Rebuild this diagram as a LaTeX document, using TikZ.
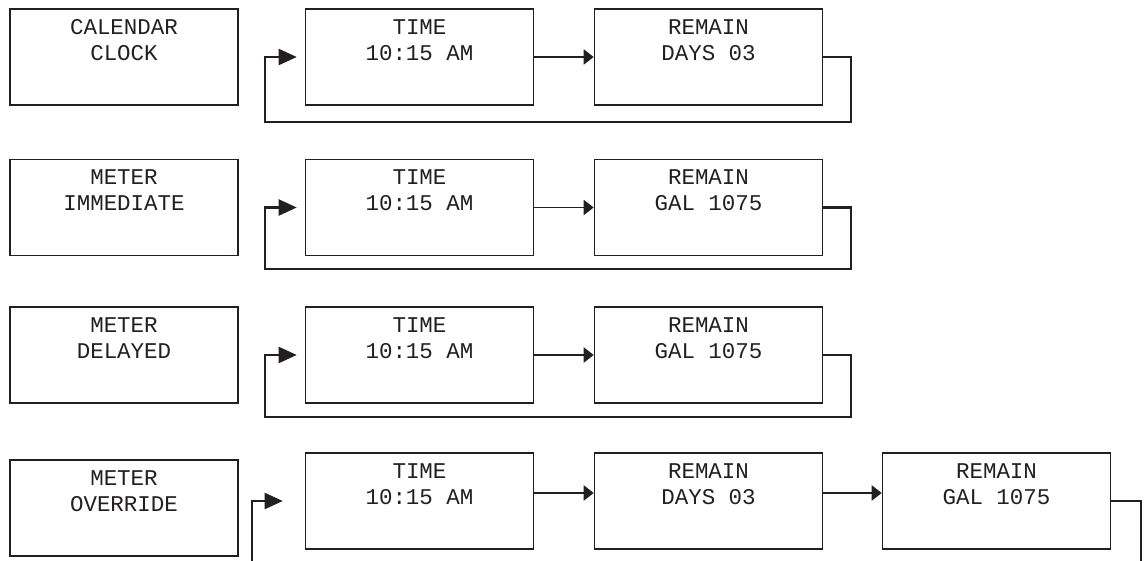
\documentclass[tikz,border=0pt]{standalone}
\usepackage{fontspec}
\newfontfamily\lcdfont{Liberation Mono}
\usetikzlibrary{arrows.meta}
\definecolor{ink}{HTML}{231F20}
\tikzset{
  panel/.style={draw=ink, line width=0.9pt, minimum width=4.56cm, minimum height=1.92cm, inner sep=0pt,
    label={[anchor=north, yshift=-0.22cm, align=center, inner sep=0pt, text=ink,
      font=\lcdfont\fontsize{12.8}{14.8}\selectfont]north:{#1}}},
  wire/.style={draw=ink, line width=1.2pt},
  stepline/.style={draw=ink, line width=1.1pt, -{Triangle[length=0.2cm,width=0.3cm]}},
  backline/.style={wire, -{Triangle[length=0.36cm,width=0.32cm]}, shorten >=0.16cm},
}

\begin{document}
\begin{tikzpicture}[x=0.02cm, y=-0.02cm]
  \useasboundingbox (0,0) rectangle (1147,561);

  % Calendar clock: time and remaining days
  \node[panel={CALENDAR\\CLOCK}] (mode1) at (124,57) {};
  \node[panel={TIME\\10:15 AM}] (time1) at (419.5,57) {};
  \node[panel={REMAIN\\DAYS 03}] (days1) at (708.5,57) {};
  \draw[stepline] (time1) -- (days1);
  \draw[backline] (days1.east) -- ++(28,0) |- (265,122) |- (time1.west);

  % Meter immediate: time and remaining gallons
  \node[panel={METER\\IMMEDIATE}] (mode2) at (124,207.5) {};
  \node[panel={TIME\\10:15 AM}] (time2) at (419.5,207.5) {};
  \node[panel={REMAIN\\GAL 1075}] (gal2) at (708.5,207.5) {};
  \draw[stepline] (time2) -- (gal2);
  \draw[backline] (gal2.east) -- ++(28,0) |- (265,269) |- (time2.west);

  % Meter delayed: same cycle
  \node[panel={METER\\DELAYED}] (mode3) at (124,355) {};
  \node[panel={TIME\\10:15 AM}] (time3) at (419.5,355) {};
  \node[panel={REMAIN\\GAL 1075}] (gal3) at (708.5,355) {};
  \draw[stepline] (time3) -- (gal3);
  \draw[backline] (gal3.east) -- ++(28,0) |- (265,417) |- (time3.west);

  % Meter override: time, days and gallons
  \node[panel={METER\\OVERRIDE}] (mode4) at (124,508) {};
  \node[panel={TIME\\10:15 AM}] (time4) at (419.5,501) {};
  \node[panel={REMAIN\\DAYS 03}] (days4) at (708.5,501) {};
  \node[panel={REMAIN\\GAL 1075}] (gal4) at (996.5,501) {};
  \draw[stepline] ([yshift=0.16cm]time4.east) -- ([yshift=0.16cm]days4.west);
  \draw[stepline] ([yshift=0.16cm]days4.east) -- ([yshift=0.16cm]gal4.west);

  % Loop ends running off the bottom
  \coordinate (exit4) at (1141,561);
  \coordinate (entry4) at (252,561);
  \draw[wire] (gal4.east) -| (exit4);
  \draw[backline, shorten >=0.44cm] (entry4) |- (time4.west);
\end{tikzpicture}
\end{document}
